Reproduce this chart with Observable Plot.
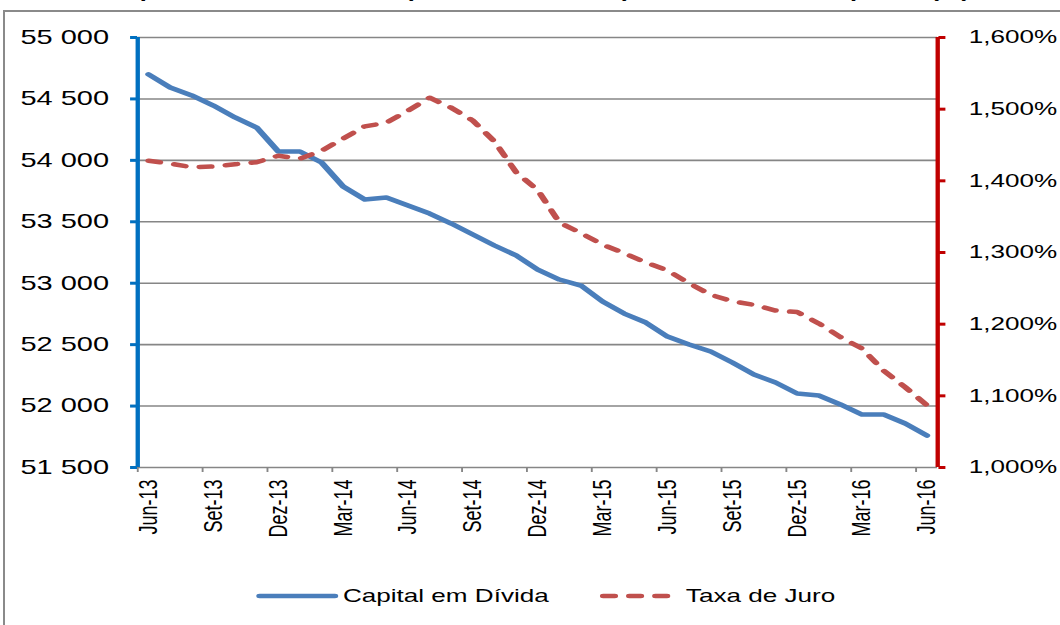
<!DOCTYPE html>
<html><head><meta charset="utf-8">
<script src="https://cdn.jsdelivr.net/npm/d3@7"></script>
<script src="https://cdn.jsdelivr.net/npm/@observablehq/plot@0.6"></script>
<style>
html,body{margin:0;padding:0;background:#fff;overflow:hidden;width:1060px;height:625px;}
#frame{position:absolute;left:3px;top:10px;width:1200px;height:800px;border:2px solid #8a8a8a;box-sizing:border-box;}
#wrap{position:absolute;left:0;top:0;width:731px;height:625px;transform:scaleX(1.45);transform-origin:0 0;font-family:"Liberation Sans",Arial,sans-serif;color:#000;}
#title{position:absolute;left:6px;width:731px;top:-19.5px;text-align:center;font-weight:bold;font-size:17.5px;line-height:20px;white-space:nowrap;}
#chart{position:absolute;left:0;top:0;}
#legend{position:absolute;left:0;top:580px;}
</style></head>
<body>
<div id="frame"></div>
<div id="wrap">
  <div id="title">Capital em Dívida Direta (milhões de euros) e Taxa de Juro Implícita (%)</div>
  <div id="chart"></div>
  <svg id="legend" width="731" height="34"></svg>
</div>
<script>
const months = ["Jun-13","Jul-13","Ago-13","Set-13","Out-13","Nov-13","Dez-13","Jan-14","Fev-14","Mar-14","Abr-14","Mai-14",
  "Jun-14","Jul-14","Ago-14","Set-14","Out-14","Nov-14","Dez-14","Jan-15","Fev-15","Mar-15","Abr-15","Mai-15",
  "Jun-15","Jul-15","Ago-15","Set-15","Out-15","Nov-15","Dez-15","Jan-16","Fev-16","Mar-16","Abr-16","Mai-16","Jun-16"];
const capitalEmDivida = [54700,54593,54528,54446,54349,54267,54072,54072,53983,53787,53681,53698,
  53632,53567,53486,53396,53307,53226,53111,53030,52981,52851,52753,52680,
  52566,52501,52444,52355,52257,52192,52102,52086,52013,51931,51931,51858,51760];
const taxaDeJuro = [1.428,1.424,1.419,1.420,1.423,1.426,1.435,1.431,1.442,1.459,1.476,1.481,
  1.498,1.516,1.502,1.484,1.455,1.412,1.387,1.342,1.327,1.311,1.299,1.286,
  1.275,1.257,1.241,1.232,1.227,1.219,1.217,1.201,1.182,1.166,1.135,1.112,1.087];
const capitalTicks = [51500,52000,52500,53000,53500,54000,54500,55000];
const taxaTicks = [1.0,1.1,1.2,1.3,1.4,1.5,1.6];
const seriesNames = ["Capital em Dívida","Taxa de Juro"];
const seriesColors = ["#4A7EBB","#C0504D"];

const Y0 = capitalTicks[0], Y1 = capitalTicks[capitalTicks.length-1];
const R0 = taxaTicks[0], R1 = taxaTicks[taxaTicks.length-1];
const toLeft = r => Y0 + (r - R0) / (R1 - R0) * (Y1 - Y0);
const fmtLeft = d3.formatLocale({decimal:",", thousands:"\u00a0", grouping:[3], currency:["",""]}).format(",d");
const fmtRight = v => ((v - Y0) / (Y1 - Y0) * (R1 - R0) + R0).toFixed(3).replace(".", ",") + "%";

const data = months.map((m, i) => ({i, m, capital: capitalEmDivida[i], taxa: taxaDeJuro[i]}));
const labelIdx = months.map((m, i) => i).filter(i => i % 3 === 0);
const boundaries = labelIdx.map(i => i - 0.5);

const chart = Plot.plot({
  width: 731, height: 560,
  marginLeft: 94.5, marginRight: 84.8, marginTop: 37, marginBottom: 93,
  style: {fontFamily: "Liberation Sans, Arial, sans-serif", fontSize: "18px", color: "#000", background: "transparent", overflow: "visible"},
  x: {domain: [-0.5, months.length - 0.5]},
  y: {domain: [Y0, Y1]},
  marks: [
    Plot.ruleY(capitalTicks, {stroke: "#868686", strokeWidth: 1.6}),
    Plot.axisX(boundaries, {tickSize: 5, tickFormat: () => "", stroke: "#868686", strokeWidth: 1.3, label: null}),
    Plot.axisX(labelIdx, {tickSize: 0, tickPadding: 12, tickRotate: -90, tickFormat: i => months[i], label: null}),
    Plot.axisY(capitalTicks, {anchor: "left", tickSize: 4.8, tickPadding: 15, tickFormat: fmtLeft, fontSize: 20, stroke: "#0070C0", strokeWidth: 3, label: null}),
    Plot.axisY(taxaTicks.map(toLeft), {anchor: "right", tickSize: 4.8, tickPadding: 16.6, tickFormat: fmtRight, stroke: "#C00000", strokeWidth: 3, label: null}),
    Plot.ruleX([-0.5], {stroke: "#0070C0", strokeWidth: 3}),
    Plot.ruleX([months.length - 0.5], {stroke: "#C00000", strokeWidth: 3}),
    Plot.line(data, {x: "i", y: "capital", stroke: seriesColors[0], strokeWidth: 4.5, strokeLinecap: "round", strokeLinejoin: "round"}),
    Plot.line(data, {x: "i", y: d => toLeft(d.taxa), stroke: seriesColors[1], strokeWidth: 4.5, strokeDasharray: "8,10", strokeLinecap: "round", strokeLinejoin: "round"})
  ]
});
document.getElementById("chart").appendChild(chart);

// legend
const lg = d3.select("#legend");
const cy = 16;
lg.append("line").attr("x1", 179).attr("x2", 231).attr("y1", cy).attr("y2", cy)
  .attr("stroke", seriesColors[0]).attr("stroke-width", 4.5).attr("stroke-linecap", "round");
lg.append("text").attr("x", 236.5).attr("y", cy + 6.5).text(seriesNames[0])
  .attr("font-family", "Liberation Sans, Arial, sans-serif").attr("font-size", 18).attr("fill", "#000");
lg.append("line").attr("x1", 416).attr("x2", 460).attr("y1", cy).attr("y2", cy)
  .attr("stroke", seriesColors[1]).attr("stroke-width", 4.5).attr("stroke-linecap", "round").attr("stroke-dasharray", "8,10");
lg.append("text").attr("x", 473).attr("y", cy + 6.5).text(seriesNames[1])
  .attr("font-family", "Liberation Sans, Arial, sans-serif").attr("font-size", 18).attr("fill", "#000");
</script>
</body></html>
